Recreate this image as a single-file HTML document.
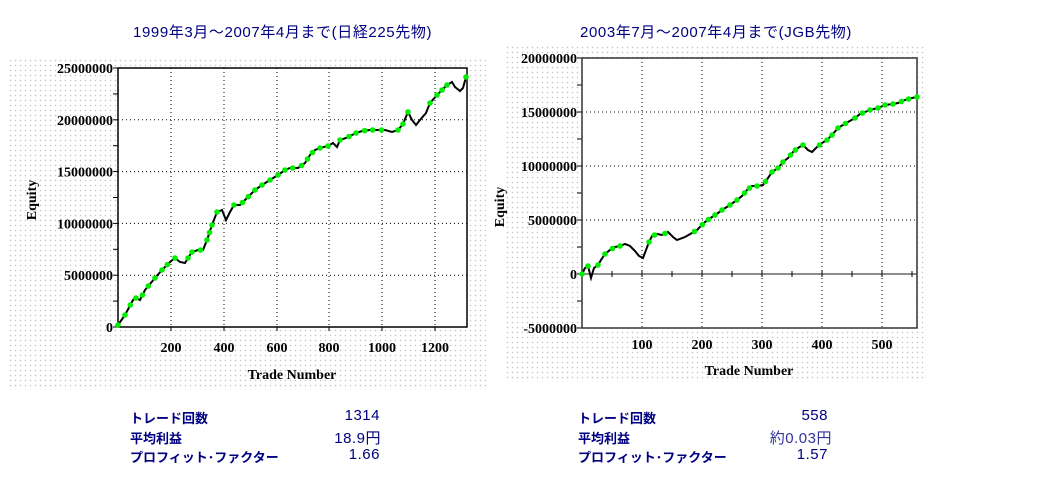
<!DOCTYPE html>
<html><head><meta charset="utf-8"><style>
body{margin:0;width:1046px;height:484px;background:#fff;overflow:hidden;position:relative;font-family:"Liberation Sans","Noto Sans CJK JP",sans-serif}
.dots{position:absolute;background-image:radial-gradient(circle,#c4c4c4 0.6px,transparent 0.9px);background-size:5px 5px}
.t{position:absolute;color:#000080;font-size:15px;white-space:nowrap;letter-spacing:0.6px}
.lab{position:absolute;color:#000080;font-size:13px;font-weight:bold;white-space:nowrap}
.val{position:absolute;color:#000080;font-size:15px;text-align:right;width:100px;white-space:nowrap;letter-spacing:0.5px}
svg{position:absolute;left:0;top:0}
</style></head><body>
<div class="dots" style="left:8px;top:58px;width:478px;height:332px"></div>
<div class="dots" style="left:505px;top:45px;width:420px;height:337px"></div>
<div class="t" style="left:133px;top:21px">1999年3月～2007年4月まで(日経225先物)</div>
<div class="t" style="left:580px;top:21px">2003年7月～2007年4月まで(JGB先物)</div>
<div class="lab" style="left:130px;top:408px">トレード回数</div>
<div class="lab" style="left:130px;top:428px">平均利益</div>
<div class="lab" style="left:130px;top:447px">プロフィット･ファクター</div>
<div class="val" style="left:280px;top:407px">1314</div>
<div class="val" style="left:281px;top:427px">18.9円</div>
<div class="val" style="left:280px;top:446px">1.66</div>
<div class="lab" style="left:578px;top:408px">トレード回数</div>
<div class="lab" style="left:578px;top:428px">平均利益</div>
<div class="lab" style="left:578px;top:447px">プロフィット･ファクター</div>
<div class="val" style="left:728px;top:407px">558</div>
<div class="val" style="left:732px;top:427px;color:#333399">約0.03円</div>
<div class="val" style="left:728px;top:446px">1.57</div>
<svg id="s" width="1046" height="484" font-family="Liberation Serif, serif" font-weight="bold" font-size="14"></svg>
<script>
var s=document.getElementById('s'),h='';
function L(x1,y1,x2,y2,st){h+='<line x1="'+x1+'" y1="'+y1+'" x2="'+x2+'" y2="'+y2+'" '+st+'/>';}
function T(x,y,t,a,ex){h+='<text x="'+x+'" y="'+y+'" text-anchor="'+(a||'middle')+'" '+(ex||'')+'>'+t+'</text>';}
var dot='stroke="#000" stroke-width="1" stroke-dasharray="1,3"';
h+='<rect x="118" y="68" width="349" height="259" fill="#fff"/>';
for(var i=1;i<5;i++){var y=327-i*51.8;L(118,y,467,y,dot);}
[171,224,277,329,382,435].forEach(function(x){L(x,68,x,327,dot);});
for(var i=0;i<=10;i++){var y=327-i*25.9;L(113,y,118,y,'stroke="#000"');}
for(var i=0;i<=5;i++)T(113,327-i*51.8+5,['0','5000000','10000000','15000000','20000000','25000000'][i],'end');
[200,400,600,800,1000,1200].forEach(function(n,i){var x=[171,224,277,329,382,435][i];T(x,352,n);L(x,327,x,331,'stroke="#000"');});
h+='<rect x="118" y="68" width="349" height="259" fill="none" stroke="#000" stroke-width="1.5"/>';
T(292,379,'Trade Number');
T(36,200,'Equity','middle','transform="rotate(-90 36 200)"');
h+='<rect x="582" y="58" width="335" height="270" fill="#fff"/>';
[112,166,220].forEach(function(y){L(582,y,917,y,dot);});
[642,702,762,822,882].forEach(function(x){L(x,58,x,328,dot);});
L(582,274,917,274,'stroke="#666" stroke-width="1.5"');
for(var x=582;x<=917;x+=30)L(x,271,x,277,'stroke="#000"');
for(var i=-2;i<=8;i++){var y=274-i*27;L(577,y,582,y,'stroke="#000"');}
[['20000000',58],['15000000',112],['10000000',166],['5000000',220],['0',274],['-5000000',328]].forEach(function(a){T(577,a[1]+5,a[0],'end');});
[100,200,300,400,500].forEach(function(n,i){T(642+i*60,349,n);});
h+='<rect x="582" y="58" width="335" height="270" fill="none" stroke="#333" stroke-width="1.5"/>';
T(749,375,'Trade Number');
T(504,207,'Equity','middle','transform="rotate(-90 504 207)"');
function curve(p){
 var str=p.map(function(q){return q.join(',')}).join(' ');
 h+='<polyline points="'+str+'" fill="none" stroke="#000" stroke-width="2"/>';
 var mn=1e9,lx=-100,ly=-100;
 for(var i=0;i<p.length-1;i++){
  var a=p[i],b=p[i+1];
  var segs=Math.max(1,Math.round(Math.abs(b[0]-a[0])/3));
  for(var k=0;k<segs;k++){var x=a[0]+(b[0]-a[0])*k/segs,y=a[1]+(b[1]-a[1])*k/segs;
   if(y<=mn+0.5){mn=Math.min(mn,y);
    if(Math.hypot(x-lx,y-ly)>=7){lx=x;ly=y;h+='<circle cx="'+x+'" cy="'+y+'" r="2.8" fill="#00ee00"/>';}}}
 }
 var e=p[p.length-1];h+='<circle cx="'+e[0]+'" cy="'+e[1]+'" r="2.8" fill="#00ee00"/>';
}
curve([[118,325],[125,315],[133,300],[136,298],[140,300],[145,290],[155,278],[162,270],[170,262],[175,258],[180,262],[185,263],[188,258],[192,252],[198,250],[203,250],[207,240],[212,225],[217,212],[222,210],[226,220],[230,212],[234,205],[240,205],[245,200],[255,190],[262,185],[270,180],[278,175],[285,170],[290,168],[298,168],[305,163],[310,155],[315,150],[320,148],[328,146],[333,143],[337,147],[340,140],[346,138],[352,135],[356,133],[362,131],[370,130],[378,130],[385,130],[392,132],[398,130],[403,124],[408,112],[412,120],[416,125],[420,120],[426,113],[430,103],[437,95],[442,90],[447,85],[452,82],[455,87],[460,91],[463,88],[466,77]]);
curve([[582,274],[585,268],[588,266],[591,278],[594,268],[598,265],[601,260],[605,254],[610,250],[615,247],[620,246],[625,244],[630,246],[635,251],[639,256],[643,258],[646,250],[649,242],[652,236],[657,234],[662,235],[668,232],[673,237],[677,240],[685,237],[692,233],[697,230],[705,222],[712,217],[718,213],[722,210],[730,205],[737,200],[742,196],[747,190],[752,186],[757,186],[763,185],[768,178],[772,172],[778,168],[783,162],[788,158],[793,152],[798,148],[803,145],[808,150],[812,152],[817,147],[822,143],[827,140],[832,135],[838,128],[843,125],[848,122],[855,118],[860,114],[865,112],[870,110],[878,108],[885,105],[893,104],[898,103],[905,100],[912,98],[917,97]]);
s.innerHTML=h;
</script>
</body></html>
